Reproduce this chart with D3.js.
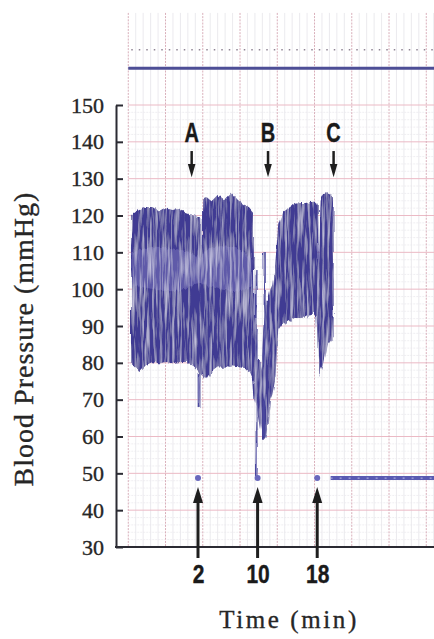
<!DOCTYPE html>
<html>
<head>
<meta charset="utf-8">
<script src="https://cdn.jsdelivr.net/npm/d3@7"></script>
<style>
  body { margin: 0; background: #fff; }
  svg { display: block; }
  .y.axis text { font-family: "Liberation Serif", "Times New Roman", serif; font-size: 22px; fill: #262626; stroke: #262626; stroke-width: 0.35px; }
  .y.axis line, .y.axis path { stroke: #2b2b33; stroke-width: 2; }
  .x.axis text { font-family: "Liberation Sans", Arial, sans-serif; font-weight: bold; font-size: 25px; fill: #1a1a1a; stroke: #1a1a1a; stroke-width: 0.4px; }
  .x.axis line, .x.axis path { display: none; }
  .title { font-family: "Liberation Serif", "Times New Roman", serif; fill: #262626; stroke: #262626; stroke-width: 0.35px; }
  .event { font-family: "Liberation Sans", Arial, sans-serif; font-weight: bold; font-size: 27px; fill: #1a1a1a; stroke: #1a1a1a; stroke-width: 0.4px; }
</style>
</head>
<body>
<div id="plot-container"></div>
<script>
var totalWidth = 434, totalHeight = 639;

// pressure trace envelope (time in min, pressure in mmHg)
var traceTime = [-7.00, -6.32, -5.88, -4.97, -4.12, -3.18, -2.27, -1.42, -0.47, 0.43, 1.28, 1.96, 2.30, 2.36, 2.64, 2.70,
  3.14, 3.81, 4.66, 5.61, 6.51, 7.36, 8.31, 8.99, 9.43, 9.57, 9.91, 10.31, 10.54, 10.74, 11.15, 11.42, 11.69, 11.96,
  12.36, 12.77, 13.27, 14.12, 14.93, 15.74, 16.55, 17.36, 17.91, 18.11, 18.24, 18.45, 18.72, 19.26, 19.80, 20.20];
var traceHigh = [120.1, 121.0, 121.5, 122.3, 122.3, 121.0, 122.0, 121.5, 121.8, 120.7, 120.1, 119.6, 119.6, 112.0, 112.0, 124.7,
  125.0, 123.9, 125.6, 124.2, 126.1, 124.2, 122.8, 122.0, 120.9, 97.2, 80.8, 80.8, 78.0, 88.9, 97.1, 97.1, 99.8, 101.1,
  106.6, 117.4, 120.7, 122.0, 123.1, 123.4, 123.4, 123.7, 123.7, 122.8, 105.2, 124.2, 125.6, 126.1, 125.6, 124.7];
var traceLow = [79.4, 78.6, 77.5, 79.4, 80.2, 79.9, 80.2, 79.9, 80.2, 80.2, 79.4, 78.0, 76.2, 76.2, 76.7, 75.9,
  75.3, 77.5, 78.8, 78.6, 79.1, 78.8, 78.6, 77.5, 75.3, 69.9, 67.2, 61.8, 64.0, 59.0, 59.9, 64.5, 69.9, 71.3,
  75.3, 88.9, 90.5, 91.1, 92.2, 92.2, 92.4, 93.3, 92.7, 80.8, 76.1, 78.0, 79.4, 84.8, 86.2, 87.0];

// paler middle zone of the trace
var paleTime = [-6.8, -4.0, -1.0, 1.5, 2.3, 2.8, 5.0, 8.0, 9.3];
var paleHigh = [110, 112, 111, 110, 108, 111, 112, 111, 108];
var paleLow = [101, 100, 99, 101, 102, 101, 100, 99, 101];

// thin single strokes
var spikeTime = [2.09, 9.86, 10.95];
var spikeHigh = [77.0, 105.2, 110.1];
var spikeLow = [68.0, 49.0, 59.9];

var markTime = [2, 10, 18];
var markLevel = 48.7;
var flatTime = [19.8, 33.7];
var topLine = 160, dottedLine = 165;

var eventLabels = ['A', 'B', 'C'];
var eventTime = [1.15, 11.4, 20.2];
var yTicks = [30, 40, 50, 60, 70, 80, 90, 100, 110, 120, 130, 140, 150];

var xScale = d3.scaleLinear().domain([2, 18]).range([198, 317.2]);
var yScale = d3.scaleLinear().domain([30, 150]).range([547, 105]);
var axisX = 116;
var gridStart = -7.36, gridEnd = 33.8, paperTop = 175;

var svg = d3.select('#plot-container').append('svg').attr('width', totalWidth).attr('height', totalHeight);

// ink texture
var defs = svg.append('defs');
var f = defs.append('filter').attr('id', 'ink').attr('x', '-5%').attr('y', '-5%').attr('width', '110%').attr('height', '110%');
f.append('feTurbulence').attr('type', 'fractalNoise').attr('baseFrequency', '0.4 0.025').attr('numOctaves', 3).attr('seed', 4).attr('result', 'noise');
f.append('feDisplacementMap').attr('in', 'SourceGraphic').attr('in2', 'noise').attr('scale', 5)
  .attr('xChannelSelector', 'R').attr('yChannelSelector', 'G').attr('result', 'disp');
f.append('feColorMatrix').attr('in', 'noise').attr('type', 'matrix')
  .attr('values', '0 0 0 0 0.8  0 0 0 0 0.79  0 0 0 0 0.93  -1.5 0 0 0 0.85').attr('result', 'speck');
f.append('feComposite').attr('in', 'speck').attr('in2', 'disp').attr('operator', 'in').attr('result', 'speckIn');
var merge = f.append('feMerge');
merge.append('feMergeNode').attr('in', 'disp');
merge.append('feMergeNode').attr('in', 'speckIn');

// chart paper grid
var grid = svg.append('g').attr('class', 'grid');
var minorT = d3.range(0, Math.floor(gridEnd - gridStart) + 1).map(function(i) { return gridStart + i; });
grid.selectAll('line.vminor').data(minorT.filter(function(d, i) { return i % 5 !== 0; })).enter().append('line')
  .attr('x1', function(d) { return xScale(d); }).attr('x2', function(d) { return xScale(d); })
  .attr('y1', yScale(paperTop)).attr('y2', yScale(30))
  .attr('stroke', '#e3e1e7').attr('stroke-width', 0.7);
grid.selectAll('line.hminor').data(d3.range(32, 150, 2).filter(function(d) { return d % 10 !== 0; })).enter().append('line')
  .attr('x1', xScale(gridStart)).attr('x2', totalWidth)
  .attr('y1', function(d) { return yScale(d); }).attr('y2', function(d) { return yScale(d); })
  .attr('stroke', '#eae8ec').attr('stroke-width', 0.7).attr('stroke-dasharray', '2 1');
grid.selectAll('line.hmajor').data(yTicks.slice(1)).enter().append('line')
  .attr('x1', xScale(gridStart)).attr('x2', totalWidth)
  .attr('y1', function(d) { return yScale(d); }).attr('y2', function(d) { return yScale(d); })
  .attr('stroke', '#ebbac5').attr('stroke-width', 1);
grid.selectAll('line.vmajor').data(minorT.filter(function(d, i) { return i % 5 === 0; })).enter().append('line')
  .attr('x1', function(d) { return xScale(d); }).attr('x2', function(d) { return xScale(d); })
  .attr('y1', yScale(paperTop)).attr('y2', yScale(30))
  .attr('stroke', '#d9afba').attr('stroke-width', 1).attr('stroke-dasharray', '2 1.2');

// recorder reference lines above the trace
svg.append('line').attr('x1', xScale(gridStart) + 3).attr('x2', totalWidth)
  .attr('y1', yScale(dottedLine)).attr('y2', yScale(dottedLine))
  .attr('stroke', '#8f8494').attr('stroke-width', 1.5).attr('stroke-dasharray', '1.5 6');
svg.append('line').attr('x1', xScale(gridStart)).attr('x2', totalWidth)
  .attr('y1', yScale(topLine)).attr('y2', yScale(topLine))
  .attr('stroke', '#4d4e96').attr('stroke-width', 3);

// the pressure trace
var trace = traceTime.map(function(d, i) { return {t: d, hi: traceHigh[i], lo: traceLow[i]}; });
var pale = paleTime.map(function(d, i) { return {t: d, hi: paleHigh[i], lo: paleLow[i]}; });
var area = d3.area().x(function(d) { return xScale(d.t); }).y0(function(d) { return yScale(d.lo); }).y1(function(d) { return yScale(d.hi); });
var ink = svg.append('g').attr('class', 'ink').attr('filter', 'url(#ink)');
ink.append('path').datum(trace).attr('d', area).attr('fill', '#403b93');
ink.append('path').datum(pale).attr('d', area.curve(d3.curveBasis)).attr('fill', '#7d79c0').attr('opacity', 0.5);
ink.selectAll('line.spike').data(spikeTime).enter().append('line').attr('class', 'spike')
  .attr('x1', function(d) { return xScale(d); }).attr('x2', function(d) { return xScale(d); })
  .attr('y1', function(d, i) { return yScale(spikeHigh[i]); }).attr('y2', function(d, i) { return yScale(spikeLow[i]); })
  .attr('stroke', '#4a479e').attr('stroke-width', 2.2);

// level after recording / marker dots
svg.append('line').attr('x1', xScale(flatTime[0])).attr('x2', xScale(flatTime[1]))
  .attr('y1', yScale(markLevel)).attr('y2', yScale(markLevel))
  .attr('stroke', '#5a5ab2').attr('stroke-width', 4);
svg.append('line').attr('x1', xScale(flatTime[0])).attr('x2', xScale(flatTime[1]))
  .attr('y1', yScale(markLevel)).attr('y2', yScale(markLevel))
  .attr('stroke', '#b9b9e4').attr('stroke-width', 1).attr('stroke-dasharray', '2 7');
svg.selectAll('circle.mark').data(markTime).enter().append('circle').attr('class', 'mark')
  .attr('cx', function(d) { return xScale(d); }).attr('cy', yScale(markLevel)).attr('r', 3)
  .attr('fill', '#6a69bd');

// axes
var yAxis = d3.axisLeft(yScale).tickValues(yTicks).tickSize(-7).tickSizeOuter(0).tickPadding(12);
svg.append('g').attr('class', 'y axis').attr('transform', 'translate(' + axisX + ',0)').call(yAxis);
svg.append('line').attr('x1', axisX - 1).attr('x2', totalWidth).attr('y1', yScale(30)).attr('y2', yScale(30))
  .attr('stroke', '#2b2b33').attr('stroke-width', 2);

var xAxis = d3.axisBottom(xScale).tickValues(markTime).tickSize(11).tickPadding(7).tickFormat(d3.format('d'));
svg.append('g').attr('class', 'x axis').attr('transform', 'translate(0,' + yScale(30) + ')').call(xAxis)
  .selectAll('text').attr('transform', 'scale(0.84,1)');

// upward arrows from the time ticks to the markers
var tipY = yScale(markLevel) + 9;
svg.selectAll('g.uparrow').data(markTime).enter().append('g').attr('class', 'uparrow')
  .attr('transform', function(d) { return 'translate(' + xScale(d) + ',0)'; })
  .each(function(d) {
    var g = d3.select(this);
    g.append('line').attr('y1', yScale(30) + 11).attr('y2', tipY + 12).attr('stroke', '#1e1e1e').attr('stroke-width', 3);
    g.append('path').attr('d', 'M0,' + tipY + 'L5,' + (tipY + 16) + 'L-5,' + (tipY + 16) + 'Z').attr('fill', '#1e1e1e');
  });

// event labels with down arrows
var ev = svg.selectAll('g.event').data(eventTime).enter().append('g').attr('class', 'event-g')
  .attr('transform', function(d) { return 'translate(' + xScale(d) + ',0)'; });
ev.append('text').attr('class', 'event').attr('text-anchor', 'middle').attr('y', yScale(140))
  .attr('transform', 'scale(0.74,1)')
  .text(function(d, i) { return eventLabels[i]; });
ev.append('line').attr('y1', yScale(137.5)).attr('y2', yScale(133)).attr('stroke', '#1e1e1e').attr('stroke-width', 2.5);
ev.append('path').attr('d', 'M-3.8,' + yScale(134) + 'L3.8,' + yScale(134) + 'L0,' + yScale(130.4) + 'Z').attr('fill', '#1e1e1e');

// titles
svg.append('text').attr('class', 'title').attr('transform', 'translate(33,339) rotate(-90)')
  .attr('text-anchor', 'middle').style('font-size', '28px').style('letter-spacing', '1px')
  .text('Blood Pressure (mmHg)');
svg.append('text').attr('class', 'title').attr('x', 289).attr('y', 628)
  .attr('text-anchor', 'middle').style('font-size', '25px').style('letter-spacing', '2.6px')
  .text('Time (min)');
</script>
</body>
</html>
